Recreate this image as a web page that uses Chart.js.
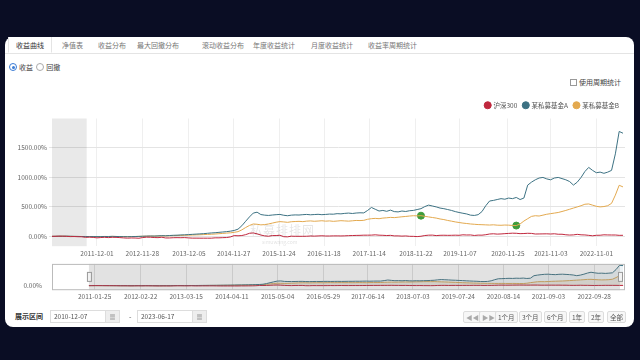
<!DOCTYPE html>
<html>
<head>
<meta charset="utf-8">
<script src="https://cdn.jsdelivr.net/npm/chart.js@4.4.0/dist/chart.umd.min.js"></script>
<style>
    body { margin: 0; width: 640px; height: 360px; background: #0a0d24; overflow: hidden; position: relative;
           font-family: "Noto Sans CJK SC", "Noto Sans", sans-serif; color: #555; }
    .card { position: absolute; left: 5px; top: 37px; width: 629px; height: 290px; background: #fff; border-radius: 8px; }
    .abs { position: absolute; white-space: nowrap; }
    .tabs { position: absolute; left: 5px; top: 37px; width: 629px; height: 16px; border-bottom: 1px solid #e4e4e4; }
    .tab { position: absolute; top: 1px; font-size: 7px; color: #777; line-height: 14px; }
    .tab.on { left: 3px; top: 0; padding: 1px 7px 0; border: 1px solid #e4e4e4; border-bottom: 1px solid #fff; border-top: 0; color: #333; background: #fff; }
    .radio { display: inline-block; width: 6px; height: 6px; border: 1px solid #aaa; border-radius: 50%; vertical-align: -1px; margin-right: 2px; position: relative; }
    .radio.on { border-color: #3a7bd5; }
    .radio.on::after { content: ""; position: absolute; left: 1.5px; top: 1.5px; width: 3px; height: 3px; border-radius: 50%; background: #3a7bd5; }
    .small { font-size: 7px; color: #444; }
    .box { display: inline-block; width: 5px; height: 5px; border: 1px solid #999; vertical-align: -1px; margin-right: 2px; }
    .inp { position: absolute; top: 310px; height: 11px; border: 1px solid #ddd; font-size: 6.5px; line-height: 11px; padding-left: 3px; color: #555; }
    .cal { position: absolute; top: 310px; width: 13px; height: 11px; background: #eee; border: 1px solid #ddd; font-size: 6px; line-height: 11px; text-align: center; color: #888; }
    .btn { position: absolute; top: 311px; height: 10px; padding: 0 2px; border: 1px solid #ddd; border-radius: 2px; background: #f7f7f7; font-size: 6.5px; line-height: 10px; color: #555; }
    .wm { position: absolute; left: 250px; top: 221px; font-size: 12px; color: rgba(0,0,0,0.10); letter-spacing: 1px; }
    .wm2 { position: absolute; left: 262px; top: 238px; font-size: 5px; color: rgba(0,0,0,0.13); }
    canvas { position: absolute; left: 0; }
</style>
</head>
<body>
<div class="card"></div>
<div class="tabs">
    <span class="tab on">收益曲线</span>
    <span class="tab" style="left:57px">净值表</span>
    <span class="tab" style="left:93px">收益分布</span>
    <span class="tab" style="left:132px">最大回撤分布</span>
    <span class="tab" style="left:197px">滚动收益分布</span>
    <span class="tab" style="left:248px">年度收益统计</span>
    <span class="tab" style="left:306px">月度收益统计</span>
    <span class="tab" style="left:363px">收益率周期统计</span>
</div>
<div class="abs small" style="left:9px;top:62px"><span class="radio on"></span>收益&nbsp;&nbsp;<span class="radio"></span>回撤</div>
<div class="abs small" style="left:570px;top:77px"><span class="box"></span>使用周期统计</div>

<canvas id="mainChart" width="634" height="164" style="top:96px"></canvas>
<div class="wm">私募排排网</div>
<div class="wm2">simuwang.com</div>
<canvas id="navChart" width="634" height="44" style="top:258px"></canvas>

<div class="abs" style="left:15px;top:311px;font-size:7px;color:#333;font-weight:bold">展示区间</div>
<div class="inp" style="left:50px;width:51px">2010-12-07</div>
<div class="cal" style="left:105px">▦</div>
<div class="abs" style="left:129px;top:311px;font-size:7px">-</div>
<div class="inp" style="left:137px;width:51px">2023-06-17</div>
<div class="cal" style="left:192px">▦</div>
<div class="btn" style="left:463px;color:#aaa">◀◀</div>
<div class="btn" style="left:479px;color:#aaa">▶▶</div>
<div class="btn" style="left:495px">1个月</div>
<div class="btn" style="left:519px">3个月</div>
<div class="btn" style="left:544px">6个月</div>
<div class="btn" style="left:569px">1年</div>
<div class="btn" style="left:588px">2年</div>
<div class="btn" style="left:607px">全部</div>

<script>
// x axis ticks
const tickDates = ['2011-12-01', '2012-11-28', '2013-12-05', '2014-11-27', '2015-11-24', '2016-11-18',
    '2017-11-14', '2018-11-22', '2019-11-07', '2020-11-25', '2021-11-03', '2022-11-01'];
const navTickDates = ['2011-01-25', '2012-02-22', '2013-03-15', '2014-04-11', '2015-05-04', '2016-05-29',
    '2017-06-14', '2018-07-03', '2019-07-24', '2020-08-14', '2021-09-03', '2022-09-28'];
const yTicks = [0, 500, 1000, 1500];

const rangeStart = '2010-12-07';
const rangeEnd = '2023-06-17';
const bandEnd = '2011-09-10';

// cumulative return, %, one point per month from 2010-12 to 2023-06
const hs300 = [
    0,
    1, 3, 3, 0, -4, -3, -6, -7, -17, -14, -18, -25,
    -20, -16, -21, -16, -17, -21, -26, -30, -27, -28, -32, -20,
    -14, -15, -20, -22, -15, -27, -27, -23, -22, -23, -21, -26,
    -30, -30, -31, -31, -31, -31, -25, -25, -22, -20, -10, 13,
    10, 14, 29, 52, 58, 43, 22, 8, 2, 13, 14, 19,
    -6, -8, 3, 1, 1, 1, 2, 6, 4, 7, 10, 6,
    6, 8, 8, 7, 9, 12, 14, 16, 17, 20, 20, 21,
    26, 20, 18, 14, 17, 8, 8, 4, 7, 1, 0, -4,
    2, 14, 20, 21, 13, 18, 19, 17, 18, 20, 18, 26,
    23, 24, 15, 21, 20, 28, 40, 44, 38, 41, 46, 50,
    54, 52, 46, 48, 52, 50, 40, 41, 42, 43, 40, 44,
    36, 36, 27, 22, 25, 34, 26, 24, 17, 10, 18, 19,
    26, 24, 23, 23, 17, 18
];
const fundA = [
    0,
    1, 3, 2, 4, 2, 0, -1, -3, -2, -4, -3, -5,
    -4, -2, -3, 0, -2, -4, -5, -6, -4, -3, -1, 2,
    4, 6, 5, 8, 12, 10, 14, 18, 20, 24, 26, 30,
    34, 38, 42, 46, 52, 58, 62, 68, 74, 80, 88, 100,
    122, 180, 256, 330, 395, 410, 370, 360, 355, 362, 368, 372,
    358, 350, 360, 364, 362, 368, 372, 366, 370, 374, 368, 372,
    378, 376, 385, 382, 390, 395, 388, 396, 400, 398, 440, 490,
    460, 430, 440, 425, 445, 420, 415, 430, 422, 435, 440, 455,
    470, 505, 530, 515, 500, 480, 470, 455, 440, 420, 405, 392,
    380, 360, 355, 368, 420, 520, 600, 610, 625, 640, 630, 650,
    640, 660, 625, 650, 870, 920, 960, 990, 1000, 975, 960, 990,
    1000, 980, 960, 930, 870, 920, 1000, 1100, 1170, 1120, 1080, 1090,
    1070, 1090, 1120, 1400, 1780, 1750
];
const fundB = [
    0,
    0, 1, 2, 1, 0, -1, -2, -2, -3, -4, -3, -4,
    -3, -2, -2, -1, -2, -3, -3, -4, -3, -2, 0, 1,
    3, 4, 4, 6, 8, 8, 10, 12, 14, 16, 18, 20,
    22, 25, 27, 30, 33, 36, 40, 45, 50, 55, 60, 68,
    80, 110, 150, 185, 210, 205, 195, 200, 210, 225, 240, 250,
    245, 238, 248, 252, 255, 250, 258, 262, 256, 260, 265, 258,
    262, 255, 260, 266, 262, 258, 264, 270, 268, 272, 290, 300,
    305, 300, 310, 315, 322, 318, 325, 332, 338, 345, 350, 348,
    351, 340, 330, 320, 310, 295, 285, 270, 258, 245, 235, 225,
    218, 210, 205, 200, 198, 195, 192, 196, 190, 188, 192, 190,
    185, 183, 210, 260, 300, 339, 350, 345, 360, 375, 385, 395,
    405, 422, 440, 460, 480, 500, 520, 545, 550, 530, 510, 500,
    506, 520, 560, 700, 867, 839
];
// max drawdown start / end on fundB
const ddDates = ['2019-01', '2021-02'];
const ddValues = [351, 183];

const names = ['沪深300', '某私募基金A', '某私募基金B'];
const colors = ['#c0283e', '#3d7283', '#e3a94f'];

function toYear(s) {
    const p = s.split('-').map(Number);
    return p[0] + (p[1] - 1) / 12 + ((p[2] || 1) - 1) / 365;
}

const months = [rangeStart];
for (let y = 2011; y <= 2023; y++) {
    for (let m = 1; m <= 12; m++) {
        if (y === 2023 && m > 6) break;
        months.push(y + '-' + String(m).padStart(2, '0'));
    }
}
const pts = arr => months.map((d, i) => ({ x: toYear(d), y: arr[i] }));

Chart.defaults.font.family = '"Noto Sans CJK SC", "Noto Sans", sans-serif';
Chart.defaults.animation = false;

const lineSet = (i, arr, extra) => Object.assign({
    label: names[i],
    data: pts(arr),
    borderColor: colors[i],
    backgroundColor: colors[i],
    borderWidth: 1,
    pointRadius: 0,
    tension: 0
}, extra || {});

// grey band over the start of the range
const bandPlugin = {
    id: 'band',
    beforeDatasetsDraw(chart) {
        const { ctx, chartArea, scales } = chart;
        const x0 = scales.x.getPixelForValue(toYear(rangeStart));
        const x1 = scales.x.getPixelForValue(toYear(bandEnd));
        ctx.save();
        ctx.fillStyle = 'rgba(0,0,0,0.085)';
        ctx.fillRect(x0, chartArea.top, x1 - x0, chartArea.bottom - chartArea.top);
        ctx.restore();
    }
};

new Chart(document.getElementById('mainChart'), {
    type: 'line',
    data: {
        datasets: [
            lineSet(0, hs300),
            lineSet(1, fundA),
            lineSet(2, fundB),
            {
                label: 'dd',
                data: ddDates.map((d, i) => ({ x: toYear(d), y: ddValues[i] })),
                showLine: false,
                pointRadius: 3.5,
                backgroundColor: '#3f9c3a',
                borderColor: '#3f9c3a'
            }
        ]
    },
    options: {
        responsive: false,
        layout: { padding: { right: 9 } },
        plugins: {
            legend: {
                align: 'end',
                labels: {
                    usePointStyle: true,
                    pointStyle: 'circle',
                    boxWidth: 5,
                    boxHeight: 5,
                    padding: 6,
                    color: '#555',
                    font: { size: 6.5 },
                    filter: item => item.text !== 'dd'
                }
            },
            tooltip: { enabled: false }
        },
        scales: {
            x: {
                type: 'linear',
                min: toYear(rangeStart),
                max: toYear(rangeEnd),
                afterBuildTicks: s => { s.ticks = tickDates.map(d => ({ value: toYear(d) })); },
                ticks: {
                    callback: (v, i) => tickDates[i],
                    autoSkip: false,
                    maxRotation: 0,
                    color: '#666',
                    font: { size: 6.5 },
                    padding: 3
                },
                grid: { color: '#efefef', drawTicks: false },
                border: { display: false }
            },
            y: {
                min: -167,
                max: 2000,
                afterBuildTicks: s => { s.ticks = yTicks.map(v => ({ value: v })); },
                afterFit: s => { s.width = 52; },
                ticks: {
                    callback: v => v.toFixed(2) + '%',
                    color: '#666',
                    font: { size: 6.5 },
                    padding: 2
                },
                grid: { color: '#e4e4e4', tickLength: 3 },
                border: { display: false }
            }
        }
    },
    plugins: [bandPlugin]
});

// navigator: mask over the selected range, handles and frame
const navPlugin = {
    id: 'navMask',
    afterDatasetsDraw(chart) {
        const { ctx, chartArea: a, scales } = chart;
        const x0 = scales.x.getPixelForValue(toYear(rangeStart));
        const x1 = a.right - 5;
        ctx.save();
        ctx.fillStyle = 'rgba(110,110,110,0.2)';
        ctx.fillRect(x0, a.top, x1 - x0, a.bottom - a.top);
        ctx.strokeStyle = '#bbb';
        ctx.lineWidth = 1;
        ctx.strokeRect(a.left + 0.5, a.top + 0.5, a.right - a.left - 1, a.bottom - a.top - 1);
        ctx.strokeStyle = '#999';
        [x0, x1].forEach(x => {
            ctx.fillStyle = '#f2f2f2';
            ctx.fillRect(x - 2, a.top + 8, 4, 9);
            ctx.strokeRect(x - 2 + 0.5, a.top + 8.5, 4, 9);
        });
        ctx.restore();
    }
};

new Chart(document.getElementById('navChart'), {
    type: 'line',
    data: {
        datasets: [
            lineSet(0, hs300, { fill: 'origin', backgroundColor: 'rgba(215,120,100,0.25)' }),
            lineSet(1, fundA, { fill: 'origin', backgroundColor: 'rgba(110,160,185,0.12)' }),
            lineSet(2, fundB, { fill: 'origin', backgroundColor: 'rgba(235,180,110,0.18)' })
        ]
    },
    options: {
        responsive: false,
        layout: { padding: { top: 5, right: 9 } },
        plugins: { legend: { display: false }, tooltip: { enabled: false } },
        scales: {
            x: {
                type: 'linear',
                min: 2010.07,
                max: toYear(rangeEnd),
                afterBuildTicks: s => { s.ticks = navTickDates.map(d => ({ value: toYear(d) })); },
                ticks: {
                    callback: (v, i) => navTickDates[i],
                    autoSkip: false,
                    maxRotation: 0,
                    color: '#666',
                    font: { size: 6.5 },
                    padding: 2
                },
                grid: { color: '#e2e2e2', drawTicks: false },
                border: { display: false }
            },
            y: {
                min: -400,
                max: 1900,
                afterBuildTicks: s => { s.ticks = [{ value: 0 }]; },
                afterFit: s => { s.width = 52; },
                ticks: {
                    callback: v => v.toFixed(2) + '%',
                    color: '#666',
                    font: { size: 6.5 },
                    padding: 2
                },
                grid: { display: false },
                border: { display: false }
            }
        }
    },
    plugins: [navPlugin]
});
</script>
</body>
</html>
